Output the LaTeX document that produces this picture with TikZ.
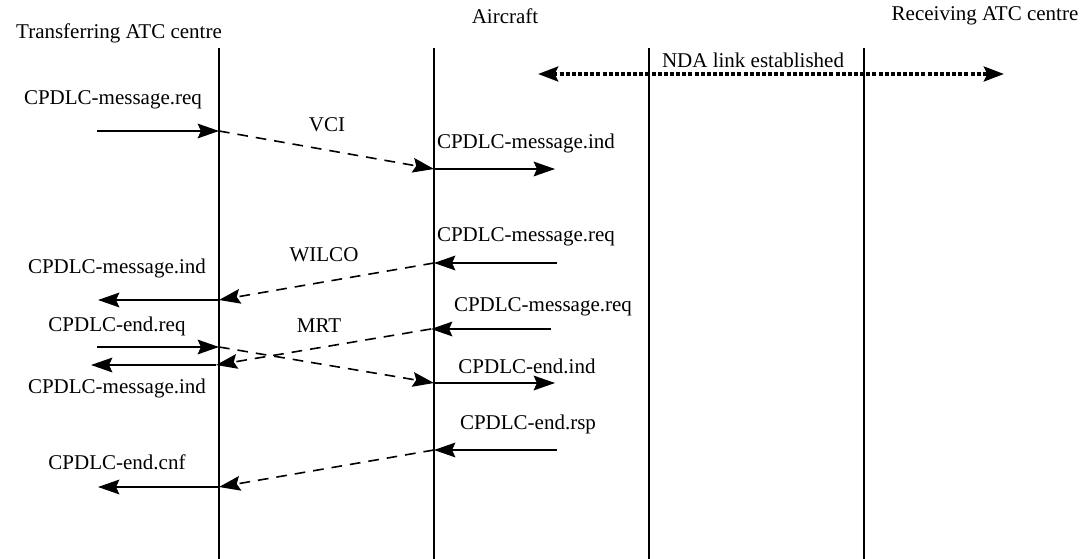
\documentclass[tikz,border=0pt]{standalone}
\usepackage{fontspec}
\setmainfont{Liberation Serif}
\usetikzlibrary{arrows.meta}
\begin{document}
\begin{tikzpicture}[x=0.75pt,y=-0.75pt,
  lbl/.style={inner sep=0pt,font=\fontsize{15.75}{18}\selectfont},
  life/.style={line width=0.85pt},
  sol/.style={line width=1.4pt,-{Stealth[length=16pt,width=11pt,inset=2.5pt]}},
  dsh/.style={line width=1.2pt,dash pattern=on 8pt off 6pt,-{Stealth[length=16pt,width=11pt,inset=2.5pt]}},
  dot/.style={line width=3pt,dash pattern=on 3pt off 1.6pt,{Stealth[length=15pt,width=11pt,inset=2.5pt]}-{Stealth[length=15pt,width=11pt,inset=2.5pt]}}]
\useasboundingbox (0,0) rectangle (1080,559);
% lifelines
\coordinate (t1) at (219,48); \coordinate (b1) at (219,559);
\coordinate (t2) at (434,48); \coordinate (b2) at (434,559);
\coordinate (t3) at (649,48); \coordinate (b3) at (649,559);
\coordinate (t4) at (864,48); \coordinate (b4) at (864,559);
\draw[life] (t1) -- (b1);
\draw[life] (t2) -- (b2);
\draw[life] (t3) -- (b3);
\draw[life] (t4) -- (b4);
% headers
\node[lbl] (h1) at (119,33) {Transferring ATC centre};
\node[lbl] (h2) at (505,16) {Aircraft};
\node[lbl] (h3) at (985,16) {Receiving ATC centre};
% NDA
\node[lbl] (nda) at (753,60) {NDA link established};
\coordinate (ndaL) at (538,74); \coordinate (ndaR) at (1004,74);
\draw[dot] (ndaL) -- (ndaR);
% message 1 (VCI)
\coordinate (a1) at (97,131); \coordinate (a2) at (219,131);
\coordinate (a3) at (434,169); \coordinate (a4) at (555,169);
\node[lbl] (m1req) at (113,100) {CPDLC-message.req};
\node[lbl] (vci) at (327,125) {VCI};
\node[lbl] (m1ind) at (526,143) {CPDLC-message.ind};
\draw[sol] (a1) -- (a2);
\draw[dsh] (a2) -- (a3);
\draw[sol] (a3) -- (a4);
% WILCO
\coordinate (w1) at (557,263); \coordinate (w2) at (434,263);
\coordinate (w3) at (219,300); \coordinate (w4) at (98,300);
\node[lbl] (wreq) at (526,237) {CPDLC-message.req};
\node[lbl] (wilco) at (324,255) {WILCO};
\node[lbl] (wind) at (117,268) {CPDLC-message.ind};
\draw[sol] (w1) -- (w2);
\draw[dsh] (w2) -- (w3);
\draw[sol] (w3) -- (w4);
% CPDLC-end
\coordinate (e1) at (97,347); \coordinate (e2) at (219,347);
\coordinate (e3) at (434,383); \coordinate (e4) at (555,383);
\node[lbl] (ereq) at (117,326) {CPDLC-end.req};
\node[lbl] (eind) at (527,366) {CPDLC-end.ind};
\draw[sol] (e1) -- (e2);
\draw[dsh] (e2) -- (e3);
\draw[sol] (e3) -- (e4);
% MRT
\coordinate (r1) at (551,329); \coordinate (r2) at (431,329);
\coordinate (r3) at (216,365); \coordinate (r4) at (91,365);
\node[lbl] (rreq) at (543,307) {CPDLC-message.req};
\node[lbl] (mrt) at (319,326) {MRT};
\node[lbl] (rind) at (117,388) {CPDLC-message.ind};
\draw[sol] (r1) -- (r2);
\draw[dsh] (r2) -- (r3);
\draw[sol] (r3) -- (r4);
% end rsp / cnf
\coordinate (c1) at (557,450); \coordinate (c2) at (434,450);
\coordinate (c3) at (219,487); \coordinate (c4) at (98,487);
\node[lbl] (crsp) at (528,424) {CPDLC-end.rsp};
\node[lbl] (ccnf) at (117,462) {CPDLC-end.cnf};
\draw[sol] (c1) -- (c2);
\draw[dsh] (c2) -- (c3);
\draw[sol] (c3) -- (c4);
\end{tikzpicture}
\end{document}
